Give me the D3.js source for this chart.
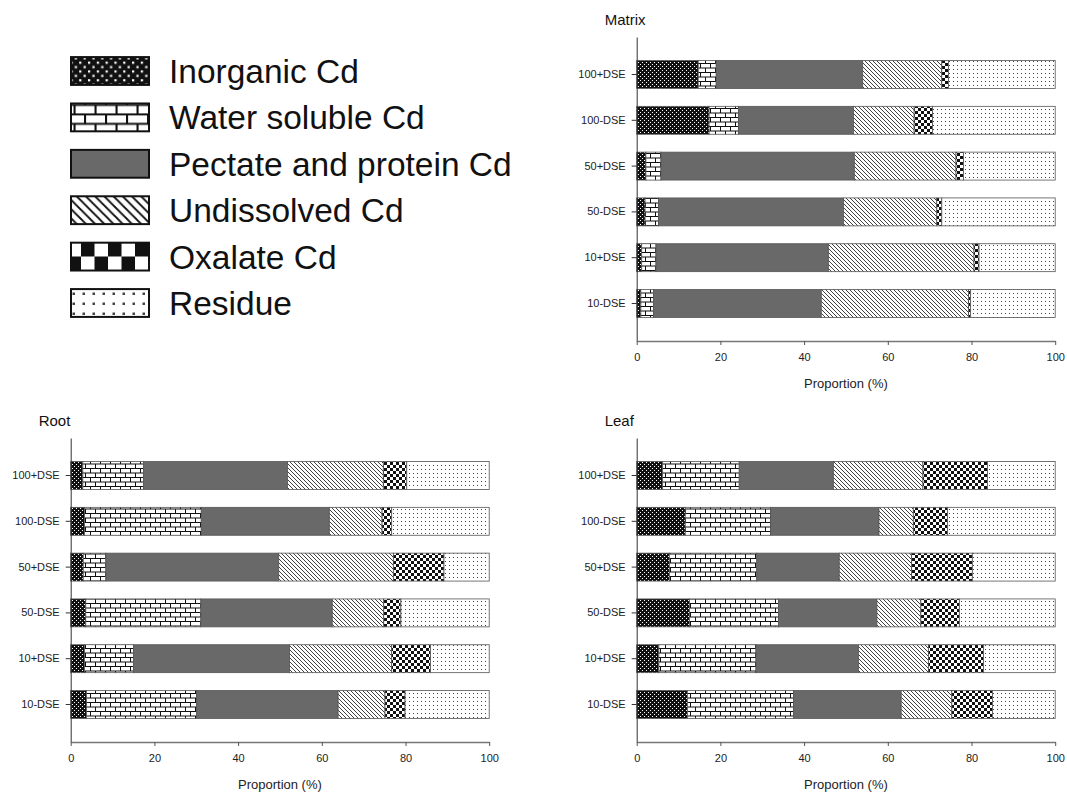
<!DOCTYPE html>
<html>
<head>
<meta charset="utf-8">
<script src="https://cdn.jsdelivr.net/npm/d3@7"></script>
<style>
  body { margin: 0; background: #fff; }
  svg { font-family: "Liberation Sans", Arial, sans-serif; }
</style>
</head>
<body>
<div id="visualization"></div>
<script>
// treatments, top to bottom
var treatments = ["100+DSE", "100-DSE", "50+DSE", "50-DSE", "10+DSE", "10-DSE"];
var fractions = ["Inorganic Cd", "Water soluble Cd", "Pectate and protein Cd", "Undissolved Cd", "Oxalate Cd", "Residue"];
var xTicks = [0, 20, 40, 60, 80, 100];

// proportions (%) per treatment, in fraction order
var matrixValues = [
  [14.7, 4.3, 35.0, 18.9, 1.6, 25.5],
  [17.3, 7.0, 27.5, 14.5, 4.4, 29.3],
  [2.2, 3.6, 46.2, 24.3, 1.8, 21.9],
  [2.0, 3.2, 44.2, 22.3, 1.2, 27.1],
  [1.2, 3.4, 41.2, 34.8, 1.2, 18.2],
  [1.0, 3.0, 40.1, 35.2, 0.5, 20.2]
];
var rootValues = [
  [2.9, 14.5, 34.4, 22.9, 5.6, 19.7],
  [3.3, 27.9, 30.6, 12.6, 2.3, 23.3],
  [3.0, 5.4, 41.3, 27.4, 12.1, 10.8],
  [3.6, 27.5, 31.4, 12.3, 4.1, 21.1],
  [3.3, 11.7, 37.3, 24.4, 9.3, 14.0],
  [3.8, 26.3, 33.8, 11.2, 4.8, 20.1]
];
var leafValues = [
  [6.2, 18.3, 22.5, 21.4, 15.4, 16.2],
  [11.6, 20.4, 25.9, 8.2, 8.2, 25.7],
  [7.8, 20.9, 19.7, 17.3, 14.5, 19.8],
  [12.6, 21.3, 23.5, 10.5, 9.2, 22.9],
  [5.3, 23.2, 24.5, 16.7, 13.2, 17.1],
  [12.1, 25.4, 25.7, 12.1, 9.7, 15.0]
];

var width = 1067, height = 792;
var svg = d3.select("#visualization").append("svg")
    .attr("width", width)
    .attr("height", height);

var defs = svg.append("defs");

/* ------- FILL PATTERNS -------*/
function makePattern(id, i, scale) {
  var p;
  if (i === 0) {
    p = defs.append("pattern").attr("id", id).attr("patternUnits", "userSpaceOnUse")
      .attr("width", 4).attr("height", 4);
    p.append("rect").attr("width", 4).attr("height", 4).attr("fill", "#111");
    p.append("rect").attr("x", 0).attr("y", 0).attr("width", 1).attr("height", 1).attr("fill", "#fff");
    p.append("rect").attr("x", 2).attr("y", 2).attr("width", 1).attr("height", 1).attr("fill", "#fff");
  } else if (i === 1) {
    p = defs.append("pattern").attr("id", id).attr("patternUnits", "userSpaceOnUse")
      .attr("width", 10).attr("height", 9);
    p.append("rect").attr("width", 10).attr("height", 9).attr("fill", "#fff");
    p.append("path")
      .attr("d", "M0,0.5H10M0,5H10M0.5,0.5V5M5.5,5V9")
      .attr("stroke", "#111").attr("stroke-width", 1).attr("fill", "none");
  } else if (i === 2) {
    p = defs.append("pattern").attr("id", id).attr("patternUnits", "userSpaceOnUse")
      .attr("width", 4).attr("height", 4);
    p.append("rect").attr("width", 4).attr("height", 4).attr("fill", "#696969");
  } else if (i === 3) {
    p = defs.append("pattern").attr("id", id).attr("patternUnits", "userSpaceOnUse")
      .attr("width", 4).attr("height", 4);
    p.append("rect").attr("width", 4).attr("height", 4).attr("fill", "#fff");
    p.append("path")
      .attr("d", "M-1,-1L5,5M-1,3L1,5M3,-1L5,1")
      .attr("stroke", "#111").attr("stroke-width", 0.8).attr("fill", "none");
  } else if (i === 4) {
    p = defs.append("pattern").attr("id", id).attr("patternUnits", "userSpaceOnUse")
      .attr("width", 6).attr("height", 6);
    p.append("rect").attr("width", 6).attr("height", 6).attr("fill", "#fff");
    p.append("rect").attr("x", 0).attr("y", 0).attr("width", 3).attr("height", 3).attr("fill", "#111");
    p.append("rect").attr("x", 3).attr("y", 3).attr("width", 3).attr("height", 3).attr("fill", "#111");
  } else {
    p = defs.append("pattern").attr("id", id).attr("patternUnits", "userSpaceOnUse")
      .attr("width", 4).attr("height", 4);
    p.append("rect").attr("width", 4).attr("height", 4).attr("fill", "#fff");
    p.append("rect").attr("x", 1).attr("y", 1).attr("width", 1).attr("height", 1).attr("fill", "#444");
  }
  if (scale !== 1) p.attr("patternTransform", "scale(" + scale + ")");
}

var legendScales = [2.2, 2.1, 1, 2.3, 4.5, 2.5];
fractions.forEach(function(f, i) {
  makePattern("bar-" + i, i, 1);
  makePattern("leg-" + i, i, legendScales[i]);
});

/* ------- LEGEND -------*/
var legend = svg.append("g").attr("class", "legend");
var legendY = d3.scaleBand().domain(fractions).range([57 - 9.2, 317 + 9.2]).paddingInner(0.4).paddingOuter(0.2);

legend.selectAll("rect")
  .data(fractions)
  .enter().append("rect")
    .attr("x", 71)
    .attr("y", function(d) { return legendY(d); })
    .attr("width", 78)
    .attr("height", legendY.bandwidth())
    .attr("fill", function(d, i) { return "url(#leg-" + i + ")"; })
    .attr("stroke", "#111")
    .attr("stroke-width", 2);

legend.selectAll("text")
  .data(fractions)
  .enter().append("text")
    .attr("x", 169)
    .attr("y", function(d) { return legendY(d) + legendY.bandwidth() / 2; })
    .attr("dy", "0.36em")
    .style("font-size", "33.5px")
    .attr("fill", "#111")
    .text(function(d) { return d; });

/* ------- PANELS -------*/
var panels = [
  { title: "Matrix", values: matrixValues, x0: 636.7, top: 37 },
  { title: "Root", values: rootValues, x0: 70.7, top: 438 },
  { title: "Leaf", values: leafValues, x0: 636.7, top: 438 }
];
var plotW = 418.5, plotH = 304;

var stack = d3.stack().keys(d3.range(fractions.length));

panels.forEach(function(panel) {
  var g = svg.append("g").attr("class", "panel");

  var x = d3.scaleLinear().domain([0, 100]).range([panel.x0, panel.x0 + plotW]);
  var y = d3.scaleBand().domain(treatments)
    .range([panel.top, panel.top + plotH])
    .paddingInner(0.39)
    .paddingOuter(0.514);

  var rows = panel.values.map(function(v, r) {
    var o = { treatment: treatments[r] };
    v.forEach(function(val, k) { o[k] = val; });
    return o;
  });
  var series = stack(rows);

  g.append("g").selectAll("g")
    .data(series)
    .enter().append("g")
      .attr("fill", function(s) { return "url(#bar-" + s.key + ")"; })
    .selectAll("rect")
    .data(function(s) { return s; })
    .enter().append("rect")
      .attr("x", function(d) { return x(d[0]); })
      .attr("y", function(d) { return y(d.data.treatment); })
      .attr("width", function(d) { return x(d[1]) - x(d[0]); })
      .attr("height", y.bandwidth())
      .attr("stroke", "#555")
      .attr("stroke-width", 0.8);

  // axes
  var yAxis = g.append("g")
    .attr("transform", "translate(" + panel.x0 + ",0)")
    .call(d3.axisLeft(y).tickSize(5).tickSizeOuter(0).tickPadding(6));
  yAxis.select(".domain").attr("stroke", "#333");
  yAxis.selectAll(".tick line").attr("stroke", "#333");
  yAxis.selectAll("text").style("font-size", "11px").attr("fill", "#222");

  var xAxis = g.append("g")
    .attr("transform", "translate(0," + (panel.top + plotH) + ")")
    .call(d3.axisBottom(x).tickValues(xTicks).tickSize(4).tickSizeOuter(0).tickPadding(8));
  xAxis.select(".domain").attr("stroke", "#777").attr("stroke-width", 1.3);
  xAxis.selectAll(".tick line").attr("stroke", "#555");
  xAxis.selectAll("text").style("font-size", "11px").attr("fill", "#222");

  g.append("text")
    .attr("x", panel.x0 + plotW / 2)
    .attr("y", panel.top + plotH + 47)
    .attr("text-anchor", "middle")
    .style("font-size", "13px")
    .attr("fill", "#222")
    .text("Proportion (%)");

  g.append("text")
    .attr("x", panel.x0 - 32)
    .attr("y", panel.top - 12)
    .style("font-size", "15px")
    .attr("fill", "#111")
    .text(panel.title);
});
</script>
</body>
</html>
